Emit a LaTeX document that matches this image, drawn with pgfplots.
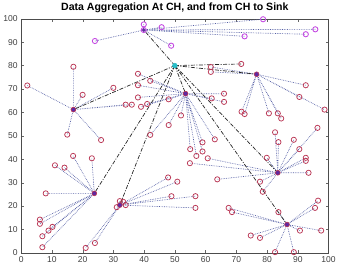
\documentclass[border=0pt]{standalone}
\usepackage{pgfplots}
\pgfplotsset{compat=1.18}
\usepackage{fontspec}
\setmainfont{Liberation Sans}
\definecolor{nodered}{RGB}{185,55,85}
\definecolor{nodemag}{RGB}{195,70,225}
\definecolor{chpurple}{RGB}{95,40,160}
\definecolor{sinkcyan}{RGB}{40,190,200}
\definecolor{linkblue}{RGB}{85,95,165}
\begin{document}
\begin{tikzpicture}
\begin{axis}[
  scale only axis, width=306pt, height=233pt,
  xmin=0, xmax=100, ymin=0, ymax=100,
  xtick={0,10,...,100}, ytick={0,10,...,100},
  xtick pos=both, ytick pos=both,
  tick align=inside, major tick length=3pt,
  tick style={black!60},
  tick label style={font=\fontsize{8.5}{9}\selectfont, text=black!75},
  /pgf/number format/assume math mode=true,
  title={\bfseries Data Aggregation At CH, and from CH to Sink},
  title style={font=\fontsize{10.5}{11}\selectfont, yshift=-4pt},
  axis line style={black!70},
  unbounded coords=jump,
  clip=false,
]
% member -> CH links (dotted)
\addplot[linkblue, line width=0.65pt, dash pattern=on 0.7pt off 1pt] coordinates {
(17,61.2)(2,71.5)(nan,nan)(17,61.2)(17,79.5)(nan,nan)(17,61.2)(20,67.5)(nan,nan)
(17,61.2)(15,50.5)(nan,nan)(17,61.2)(26,48.2)(nan,nan)(17,61.2)(30,70.5)(nan,nan)
(17,61.2)(34,63.3)(nan,nan)(17,61.2)(36,63.3)(nan,nan)
(53.5,68)(38,76.5)(nan,nan)(53.5,68)(42,73.5)(nan,nan)(53.5,68)(38,71.6)(nan,nan)
(53.5,68)(38,66.4)(nan,nan)(53.5,68)(39,62.4)(nan,nan)(53.5,68)(41,63.6)(nan,nan)
(53.5,68)(48,65.6)(nan,nan)(53.5,68)(48,54.6)(nan,nan)(53.5,68)(52,58.7)(nan,nan)
(53.5,68)(42,50.4)(nan,nan)(53.5,68)(62,66)(nan,nan)(53.5,68)(66,68)(nan,nan)
(53.5,68)(66,64.5)(nan,nan)(53.5,68)(55,44.3)(nan,nan)(53.5,68)(59,47.2)(nan,nan)
(53.5,68)(63,48.5)(nan,nan)(53.5,68)(59,43.3)(nan,nan)(53.5,68)(57,41.4)(nan,nan)
(76.6,76.3)(92.6,71.6)(nan,nan)(76.6,76.3)(90.5,66.6)(nan,nan)(76.6,76.3)(98.7,61.2)(nan,nan)
(76.6,76.3)(80.6,59.6)(nan,nan)(76.6,76.3)(83.5,59.6)(nan,nan)(76.6,76.3)(84.6,57.4)(nan,nan)
(76.6,76.3)(71.7,60.3)(nan,nan)(76.6,76.3)(72.7,59.3)(nan,nan)(76.6,76.3)(61.7,79.4)(nan,nan)
(76.6,76.3)(61.7,77.3)(nan,nan)
(83.5,34.2)(54.9,38.3)(nan,nan)(83.5,34.2)(60.7,40.4)(nan,nan)(83.5,34.2)(63.8,31.4)(nan,nan)
(83.5,34.2)(79.9,40.6)(nan,nan)(83.5,34.2)(83.7,47.3)(nan,nan)(83.5,34.2)(82.6,51.5)(nan,nan)
(83.5,34.2)(88.7,48.3)(nan,nan)(83.5,34.2)(90.5,44.3)(nan,nan)(83.5,34.2)(92.6,40.6)(nan,nan)
(83.5,34.2)(92.6,39.3)(nan,nan)(83.5,34.2)(93.5,34.2)(nan,nan)(83.5,34.2)(96.4,53.4)(nan,nan)
(83.5,34.2)(77.7,30.4)(nan,nan)(83.5,34.2)(78.6,26.1)(nan,nan)
(86.5,12.1)(67.5,19.2)(nan,nan)(86.5,12.1)(68.6,17.4)(nan,nan)(86.5,12.1)(83.7,17.4)(nan,nan)
(86.5,12.1)(96.6,22.3)(nan,nan)(86.5,12.1)(95.6,19.2)(nan,nan)(86.5,12.1)(90.7,9.5)(nan,nan)
(86.5,12.1)(97.6,9.5)(nan,nan)(86.5,12.1)(74.7,7.4)(nan,nan)(86.5,12.1)(77.7,6.4)(nan,nan)
(86.5,12.1)(82.6,0.3)(nan,nan)(86.5,12.1)(88.7,0.3)(nan,nan)
(32.1,20.4)(32.1,22.1)(nan,nan)(32.1,20.4)(33.2,21.8)(nan,nan)(32.1,20.4)(31.1,19.5)(nan,nan)
(32.1,20.4)(34,20.4)(nan,nan)(32.1,20.4)(47.8,32.2)(nan,nan)(32.1,20.4)(50.8,30.4)(nan,nan)
(32.1,20.4)(48.9,24.2)(nan,nan)(32.1,20.4)(56.7,24.2)(nan,nan)(32.1,20.4)(56.7,19.2)(nan,nan)
(32.1,20.4)(24,4.2)(nan,nan)(32.1,20.4)(21,2.1)(nan,nan)
(23.8,25.4)(8,25.4)(nan,nan)(23.8,25.4)(16.9,41.4)(nan,nan)(23.8,25.4)(11,37.4)(nan,nan)
(23.8,25.4)(14.1,36.4)(nan,nan)(23.8,25.4)(23,40.4)(nan,nan)(23.8,25.4)(6.1,14.2)(nan,nan)
(23.8,25.4)(6.1,12.4)(nan,nan)(23.8,25.4)(10.2,11.1)(nan,nan)(23.8,25.4)(8.9,9.5)(nan,nan)
(23.8,25.4)(6.9,7.1)(nan,nan)(23.8,25.4)(6.9,2.4)(nan,nan)
(39.9,95.2)(24,90.5)(nan,nan)(39.9,95.2)(39.9,97.6)(nan,nan)(39.9,95.2)(45.7,96.4)(nan,nan)
(39.9,95.2)(48.8,88.5)(nan,nan)(39.9,95.2)(72.7,92.5)(nan,nan)(39.9,95.2)(78.7,99.8)(nan,nan)
(39.9,95.2)(92.6,93.4)(nan,nan)(39.9,95.2)(95.7,95.5)
};
% CH -> sink links (dash-dot)
\addplot[black!85, line width=0.7pt, dash pattern=on 4pt off 1.5pt on 1pt off 1.5pt] coordinates {
(50,80)(17,61.2)(nan,nan)(50,80)(23.8,25.4)(nan,nan)(50,80)(32.1,20.4)(nan,nan)
(50,80)(53.5,68)(nan,nan)(50,80)(76.6,76.3)(nan,nan)(50,80)(71.6,80.7)(nan,nan)
(50,80)(83.5,34.2)(nan,nan)(50,80)(86.5,12.1)(nan,nan)(50,80)(39.9,95.2)
};
% ordinary nodes
\addplot[only marks, mark=o, mark size=2.6pt, nodered, line width=0.75pt] coordinates {
(2,71.5)(17,79.5)(20,67.5)(15,50.5)(26,48.2)(30,70.5)(34,63.3)(36,63.3)
(38,76.5)(42,73.5)(38,71.6)(38,66.4)(39,62.4)(41,63.6)(48,65.6)(48,54.6)(52,58.7)
(42,50.4)(62,66)(66,68)(66,64.5)(55,44.3)(59,47.2)(63,48.5)(59,43.3)(57,41.4)
(92.6,71.6)(90.5,66.6)(98.7,61.2)(80.6,59.6)(83.5,59.6)(84.6,57.4)(71.7,60.3)(72.7,59.3)
(61.7,79.4)(61.7,77.3)(71.6,80.7)
(54.9,38.3)(60.7,40.4)(63.8,31.4)(79.9,40.6)(83.7,47.3)(82.6,51.5)(88.7,48.3)(90.5,44.3)
(92.6,40.6)(92.6,39.3)(93.5,34.2)(96.4,53.4)(77.7,30.4)(78.6,26.1)
(67.5,19.2)(68.6,17.4)(83.7,17.4)(96.6,22.3)(95.6,19.2)(90.7,9.5)(97.6,9.5)(74.7,7.4)
(77.7,6.4)(82.6,0.3)(88.7,0.3)
(32.1,22.1)(33.2,21.8)(31.1,19.5)(34,20.4)(47.8,32.2)(50.8,30.4)(48.9,24.2)(56.7,24.2)
(56.7,19.2)(24,4.2)(21,2.1)
(8,25.4)(16.9,41.4)(11,37.4)(14.1,36.4)(23,40.4)(6.1,14.2)(6.1,12.4)(10.2,11.1)(8.9,9.5)
(6.9,7.1)(6.9,2.4)
};
% upper cluster nodes (magenta)
\addplot[only marks, mark=o, mark size=2.6pt, nodemag, line width=0.85pt] coordinates {
(24,90.5)(39.9,97.6)(45.7,96.4)(48.8,88.5)(72.7,92.5)(78.7,99.8)(92.6,93.4)(95.7,95.5)(39.9,95.2)
};
% cluster heads
\addplot[only marks, mark=*, mark size=2.4pt, draw=nodered, fill=chpurple, line width=0.6pt] coordinates {
(17,61.2)(53.5,68)(76.6,76.3)(83.5,34.2)(86.5,12.1)(32.1,20.4)(23.8,25.4)
};
\addplot[only marks, mark=*, mark size=1.6pt, chpurple] coordinates {(39.9,95.2)};
% sink
\addplot[only marks, mark=*, mark size=2.4pt, sinkcyan] coordinates {(50,80)};
\end{axis}
\end{tikzpicture}
\end{document}
